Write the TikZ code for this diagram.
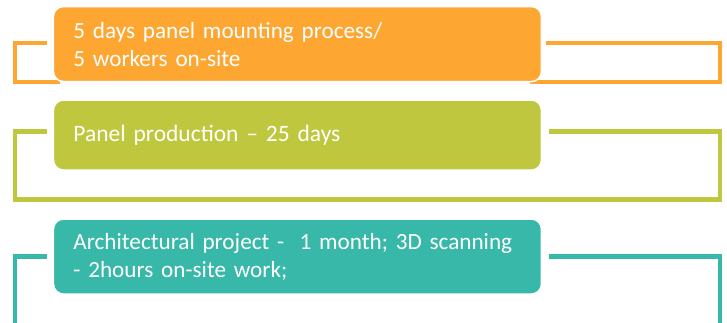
\documentclass[tikz,border=0pt]{standalone}
\usepackage{fontspec}
\setmainfont{Carlito}
\definecolor{mountorange}{HTML}{FDA732}
\definecolor{prodgreen}{HTML}{BFC73E}
\definecolor{archteal}{HTML}{38B8A9}

\begin{document}
\begin{tikzpicture}[x=1pt,y=-1pt,
    stage/.style ={rectangle, rounded corners=10pt, draw=white, line width=1.5pt,
      text=white, align=left, anchor=north west, minimum width=488pt,
      minimum height=75pt, text width=448pt, inner xsep=20pt,
      font=\fontsize{23.2}{28}\selectfont},
    bracket/.style ={line width=4.6pt}]
   \clip (0,0) rectangle (727,322);
   \coordinate (mountL) at (15,82);
   \coordinate (mountR) at (720,82);
   \coordinate (prodL) at (15,199.5);
   \coordinate (prodR) at (720,199.5);
   \coordinate (archL) at (15,330);
   \coordinate (archR) at (720,330);
   \draw[bracket, mountorange] (46.6,43) -| (mountL) -- (60,82);
   \draw[bracket, mountorange] (546,43) -| (mountR) -- (530,82);
   \draw[bracket, prodgreen] (46.6,131.5) -| (prodL) -- (prodR) |- (549,131.5);
   \draw[bracket, archteal] (46.6,256.5) -| (archL);
   \draw[bracket, archteal] (549,256.5) -| (archR);
   \node[stage, fill=mountorange] (mount) at (52.7,5.8)
     {5 days panel mounting process/\\5 workers on-site};
   \node[stage, fill=prodgreen, minimum height=70pt,
     font=\fontsize{23.5}{28}\selectfont] (prod) at (52.7,99.3)
     {Panel production – 25 days};
   \node[stage, fill=archteal] (arch) at (52.7,218.3)
     {Architectural project - \ 1 month; 3D scanning\\- 2hours on-site work;};
 \end{tikzpicture}
\end{document}
